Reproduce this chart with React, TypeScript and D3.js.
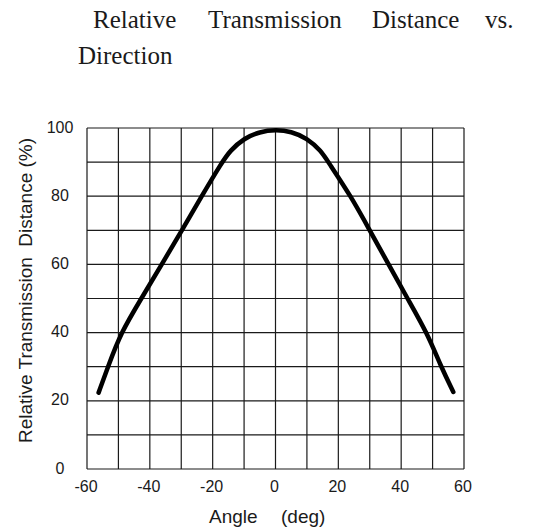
import React from "react";
import * as d3 from "d3";

const angles = [-56.3, -53.3, -49.2, -42.7, -36.2, -29.8, -23.5, -17, -14.5, -10, -5, 0, 5, 10, 14.5, 16.8, 24, 30, 36, 42, 48.2, 52.7, 56.6];
const distances = [22.4, 30, 40, 50, 60, 70, 80, 90, 93.3, 97, 98.9, 99.5, 99, 97, 93.3, 90, 80, 70, 60, 50, 40, 30, 22.6];
const xTicks = [-60, -40, -20, 0, 20, 40, 60];
const yTicks = [0, 20, 40, 60, 80, 100];
const xGrid = [-60, -50, -40, -30, -20, -10, 0, 10, 20, 30, 40, 50, 60];
const yGrid = [0, 10, 20, 30, 40, 50, 60, 70, 80, 90, 100];
const titleLine1 = [
  { word: "Relative", at: 93 },
  { word: "Transmission", at: 208 },
  { word: "Distance", at: 372 },
  { word: "vs.", at: 485 },
];
const titleLine2 = "Direction";
const xLabelParts = ["Angle", "(deg)"];
const yLabel = "Relative Transmission\u00a0 Distance (%)";

export default function App() {
  const left = 87, right = 464, top = 128, bottom = 469;
  const x = d3.scaleLinear().domain([-60, 60]).range([left, right]);
  const y = d3.scaleLinear().domain([0, 100]).range([bottom, top]);
  const pts: [number, number][] = angles.map((a, i) => [a, distances[i]]);
  const line = d3
    .line<[number, number]>()
    .x((d) => x(d[0]))
    .y((d) => y(d[1]))
    .curve(d3.curveBasis);
  const sans = "'Liberation Sans', Arial, sans-serif";
  const serif = "'Liberation Serif', 'Times New Roman', serif";
  return (
    <svg
      width={534}
      height={532}
      style={{ position: "absolute", left: 0, top: 0, background: "#fff" }}
    >
      <rect x={0} y={0} width={534} height={532} fill="#fff" />
      <g fontFamily={serif} fontSize={25} fill="#1a1a1a">
        {titleLine1.map((t) => (
          <text key={t.word} x={t.at} y={28}>
            {t.word}
          </text>
        ))}
        <text x={78} y={64}>{titleLine2}</text>
      </g>
      <g stroke="#1a1a1a" strokeWidth={1.2}>
        {xGrid.map((v) => (
          <line key={"vx" + v} x1={x(v)} x2={x(v)} y1={top} y2={bottom} />
        ))}
        {yGrid.map((v) => (
          <line key={"hy" + v} x1={left} x2={right} y1={y(v)} y2={y(v)} />
        ))}
      </g>
      <path d={line(pts) || ""} fill="none" stroke="#000" strokeWidth={4.5} strokeLinecap="round" strokeLinejoin="round" />
      <g fontFamily={sans} fontSize={16} fill="#1a1a1a">
        {yTicks.map((v) => (
          <text key={"yt" + v} x={60} y={y(v) - 1} textAnchor="middle" dominantBaseline="central">
            {v}
          </text>
        ))}
        {xTicks.map((v) => (
          <text key={"xt" + v} x={x(v) - 1} y={492} textAnchor="middle">
            {v}
          </text>
        ))}
      </g>
      <g fontFamily={sans} fontSize={19} fill="#1a1a1a">
        <text x={209} y={523}>{xLabelParts[0]}</text>
        <text x={281} y={523}>{xLabelParts[1]}</text>
        <text transform={`translate(32,290.5) rotate(-90)`} textAnchor="middle">
          {yLabel}
        </text>
      </g>
    </svg>
  );
}
